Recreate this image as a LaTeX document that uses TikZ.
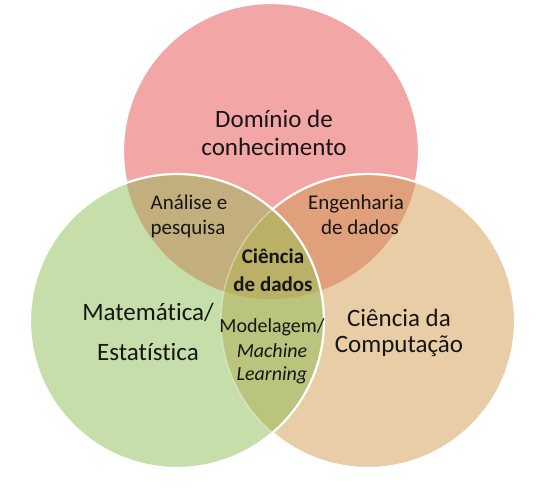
\documentclass[tikz,border=0pt]{standalone}
\usepackage{fontspec}
\setmainfont{Carlito}[Ligatures={NoCommon}]
\definecolor{cpink}{HTML}{F2A6A6}
\definecolor{cgreen}{HTML}{C6DFAA}
\definecolor{ctan}{HTML}{E8CDA6}
\definecolor{ckhaki}{HTML}{C3AF7E}
\definecolor{csalmon}{HTML}{E0A07C}
\definecolor{colive}{HTML}{BAB066}
\definecolor{clens}{HTML}{BAC47C}
\definecolor{ctext}{HTML}{161616}
\tikzset{
  lbl/.style={text=ctext, inner sep=0pt, anchor=base},
  big/.style={lbl, font=\fontsize{25}{30}\selectfont},
  mid/.style={lbl, font=\fontsize{21}{25}\selectfont},
  cen/.style={lbl, font=\bfseries\fontsize{21}{25}\selectfont},
  sml/.style={lbl, font=\fontsize{20}{24}\selectfont},
  smli/.style={lbl, font=\itshape\fontsize{20}{24}\selectfont},
  rim/.style={draw=white, line width=2.2pt}
}
\begin{document}
\begin{tikzpicture}[x=1pt,y=-1pt]
\useasboundingbox (0,0) rectangle (552,488);
\fill[white] (0,0) rectangle (552,488);
\coordinate (T) at (271,151);
\coordinate (L) at (177,321);
\coordinate (R) at (368,321);
% top circle
\fill[cpink] (T) circle[radius=148pt];
\draw[rim] (T) circle[radius=148pt];
% right circle
\fill[ctan] (R) circle[radius=147pt];
\begin{scope}
  \clip (R) circle[radius=147pt];
  \fill[csalmon] (T) circle[radius=148pt];
\end{scope}
\draw[rim] (R) circle[radius=147pt];
% left circle
\fill[cgreen] (L) circle[radius=147pt];
\begin{scope}
  \clip (L) circle[radius=147pt];
  \fill[ckhaki] (T) circle[radius=148pt];
  \fill[clens] (R) circle[radius=147pt];
  \clip (R) circle[radius=147pt];
  \fill[colive] (T) circle[radius=148pt];
\end{scope}
\begin{scope}
  \clip (L) circle[radius=147pt];
  \draw[draw=white, opacity=0.35, line width=1.5pt] (R) circle[radius=147pt];
\end{scope}
\draw[rim] (L) circle[radius=147pt];
% labels
\node[big] (dom1) at (274,127) {Domínio de};
\node[big] (dom2) at (274,155) {conhecimento};
\node[mid] (ana1) at (189,209) {Análise e};
\node[mid] (ana2) at (188,234) {pesquisa};
\node[mid] (eng1) at (356,209) {Engenharia};
\node[mid] (eng2) at (360,234) {de dados};
\node[cen] (cd1) at (273,263) {Ciência};
\node[cen] (cd2) at (273,291) {de dados};
\node[sml] (mod1) at (272,332) {Modelagem/};
\node[smli] (mod2) at (272,357) {Machine};
\node[smli] (mod3) at (272,380) {Learning};
\node[big] (mat1) at (148,320) {Matemática/};
\node[big] (mat2) at (148,360) {Estatística};
\node[big] (cc1) at (399,326) {Ciência da};
\node[big] (cc2) at (399,352) {Computação};
\end{tikzpicture}
\end{document}
